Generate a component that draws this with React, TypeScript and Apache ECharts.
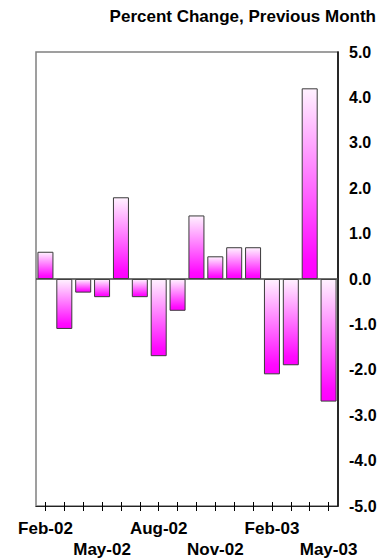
import React, { useEffect, useRef } from "react";
import * as echarts from "echarts";

// Monthly percent change, Feb 2002 – May 2003
const months = [
  "Feb-02", "Mar-02", "Apr-02", "May-02", "Jun-02", "Jul-02", "Aug-02", "Sep-02",
  "Oct-02", "Nov-02", "Dec-02", "Jan-03", "Feb-03", "Mar-03", "Apr-03", "May-03",
];
const pctChange = [0.6, -1.1, -0.3, -0.4, 1.8, -0.4, -1.7, -0.7, 1.4, 0.5, 0.7, 0.7, -2.1, -1.9, 4.2, -2.7];
const yTicks = { min: -5, max: 5, step: 1 };
const titleText = "Percent Change, Previous Month";

const FONT = '"Liberation Sans", Arial, Helvetica, sans-serif';

export default function App() {
  const ref = useRef<HTMLDivElement>(null);

  useEffect(() => {
    if (!ref.current) return;
    const chart = echarts.init(ref.current, undefined, { renderer: "svg" });

    const barFill = new echarts.graphic.LinearGradient(0, 0, 0, 1, [
      { offset: 0, color: "#fff2ff" },
      { offset: 0.9, color: "#ff0aff" },
      { offset: 1, color: "#ff00ff" },
    ]);

    chart.setOption({
      animation: false,
      backgroundColor: "#ffffff",
      title: {
        text: titleText,
        right: 9,
        top: 8,
        padding: 0,
        textStyle: { fontFamily: FONT, fontSize: 17, fontWeight: "bold", color: "#000" },
      },
      grid: {
        left: 36,
        right: 47,
        top: 52,
        bottom: 53,
        show: true,
        borderColor: "#808080",
        borderWidth: 1.5,
        backgroundColor: "transparent",
      },
      xAxis: [
        {
          type: "category",
          data: months,
          position: "bottom",
          boundaryGap: true,
          axisLine: { show: true, onZero: false, lineStyle: { color: "#222", width: 1.2 } },
          axisTick: {
            show: true,
            alignWithLabel: true,
            interval: 0,
            inside: false,
            length: 5,
            lineStyle: { color: "#000", width: 1 },
          },
          axisLabel: {
            interval: 2,
            margin: 12,
            fontFamily: FONT,
            fontSize: 17,
            fontWeight: "bold",
            color: "#000",
            lineHeight: 21,
            formatter: (v: string, i: number) => (i % 6 === 0 ? v : "\n" + v),
          },
          splitLine: { show: false },
        },
        {
          type: "category",
          data: months,
          position: "bottom",
          boundaryGap: true,
          axisLine: { show: false, onZero: false },
          axisTick: {
            show: true,
            alignWithLabel: true,
            interval: 0,
            inside: true,
            length: 4,
            lineStyle: { color: "#000", width: 1 },
          },
          axisLabel: { show: false },
          splitLine: { show: false },
        },
      ],
      yAxis: {
        type: "value",
        position: "right",
        min: yTicks.min,
        max: yTicks.max,
        interval: yTicks.step,
        axisLine: { show: true, lineStyle: { color: "#000", width: 1.5 } },
        axisTick: { show: false },
        splitLine: { show: false },
        axisLabel: {
          margin: 11,
          fontFamily: FONT,
          fontSize: 16,
          fontWeight: "bold",
          color: "#000",
          formatter: (v: number) => v.toFixed(1),
        },
      },
      series: [
        {
          type: "bar",
          xAxisIndex: 0,
          data: pctChange,
          barWidth: 16,
          itemStyle: { color: barFill, borderColor: "#3a3a3a", borderWidth: 1 },
          markLine: {
            silent: true,
            symbol: "none",
            label: { show: false },
            lineStyle: { color: "#444", width: 1.5, type: "solid" },
            data: [{ yAxis: 0 }],
          },
        },
      ],
    });

    return () => chart.dispose();
  }, []);

  return (
    <div
      ref={ref}
      style={{ position: "fixed", left: 0, top: 0, width: 385, height: 560, background: "#fff" }}
    />
  );
}
